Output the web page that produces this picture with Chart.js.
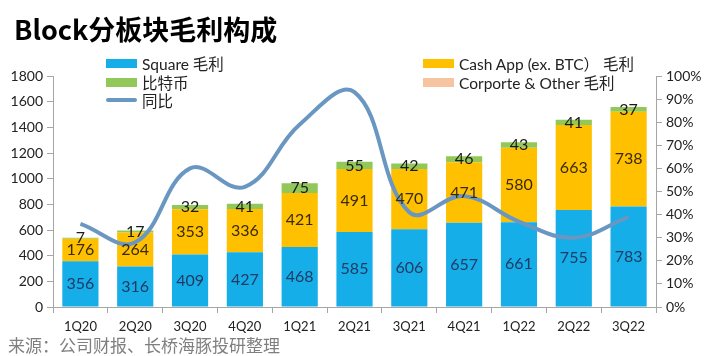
<!DOCTYPE html>
<html>
<head>
<meta charset="utf-8">
<script src="https://cdn.jsdelivr.net/npm/chart.js@4.4.1/dist/chart.umd.min.js"></script>
<style>
html,body{margin:0;padding:0;background:#fff;}
#wrap{position:relative;width:712px;height:356px;overflow:hidden;background:#fff;}
#c{position:absolute;left:0;top:0;}
#title{position:absolute;left:14px;top:11px;font:bold 27px "Noto Sans CJK SC","Noto Sans",sans-serif;color:#000;white-space:nowrap;line-height:36px;}
#source{position:absolute;left:8px;top:334px;font:17px "Noto Sans CJK SC",sans-serif;color:#7f7f7f;white-space:nowrap;line-height:22px;}
.lg{position:absolute;font:15.5px Lato,"Noto Sans CJK SC",sans-serif;color:#222;white-space:nowrap;display:flex;align-items:center;height:18px;}
.sw{display:inline-block;width:31px;height:9px;margin-right:5px;}
.ln{display:inline-block;width:31px;height:4px;border-radius:2px;margin-right:5px;}
</style>
</head>
<body>
<div id="wrap">
<canvas id="c" width="712" height="356"></canvas>
<div id="title">Block分板块毛利构成</div>
<div id="legend"></div>
<div id="source">来源：公司财报、长桥海豚投研整理</div>
</div>
<script>
const categories = ["1Q20","2Q20","3Q20","4Q20","1Q21","2Q21","3Q21","4Q21","1Q22","2Q22","3Q22"];
const squareGP   = [356,316,409,427,468,585,606,657,661,755,783];
const cashAppGP  = [176,264,353,336,421,491,470,471,580,663,738];
const bitcoinGP  = [7,17,32,41,75,55,42,46,43,41,37];
const corporateGP= [0,0,0,0,0,0,0,0,0,0,0];
const yoyGrowth  = [0.36,0.28,0.60,0.52,0.79,0.93,0.41,0.48,0.37,0.30,0.39];
const leftTicks  = [0,200,400,600,800,1000,1200,1400,1600,1800];
const rightTicks = ["0%","10%","20%","30%","40%","50%","60%","70%","80%","90%","100%"];

const C_SQ="#15AEE8", C_CA="#FFC000", C_BTC="#92C85A", C_CO="#F6C4A0", C_LINE="#6A97C1";

const labelPlugin={
  id:'barLabels',
  afterDatasetsDraw(chart){
    const ctx=chart.ctx;
    ctx.save();
    ctx.font='16px Lato, "Liberation Sans", sans-serif';
    ctx.textAlign='center';ctx.textBaseline='middle';
    chart.data.datasets.forEach((ds,i)=>{
      if(!ds.labelColor) return;
      const meta=chart.getDatasetMeta(i);
      meta.data.forEach((el,j)=>{
        const v=ds.data[j];
        if(!v) return;
        const p=el.getProps(['x','y','base'],true);
        ctx.fillStyle=ds.labelColor;
        ctx.fillText(String(v),p.x,(p.y+p.base)/2);
      });
    });
    ctx.restore();
  }
};

const axisColor="#A6A6A6";
const tickFont={family:'Lato, "Liberation Sans", sans-serif',size:14};

new Chart(document.getElementById('c'),{
  data:{
    labels:categories,
    datasets:[
      {type:'line',label:'同比',data:yoyGrowth,yAxisID:'y1',borderColor:C_LINE,borderWidth:4,tension:0.4,pointRadius:0,fill:false,order:0},
      {type:'bar',label:'Square 毛利',data:squareGP,backgroundColor:C_SQ,yAxisID:'y',stack:'s',labelColor:'#1F3B63',order:1,categoryPercentage:0.66,barPercentage:1},
      {type:'bar',label:'Cash App (ex. BTC） 毛利',data:cashAppGP,backgroundColor:C_CA,yAxisID:'y',stack:'s',labelColor:'#3A2A08',order:1,categoryPercentage:0.66,barPercentage:1},
      {type:'bar',label:'比特币',data:bitcoinGP,backgroundColor:C_BTC,yAxisID:'y',stack:'s',labelColor:'#1A1A1A',order:1,categoryPercentage:0.66,barPercentage:1},
      {type:'bar',label:'Corporte & Other 毛利',data:corporateGP,backgroundColor:C_CO,yAxisID:'y',stack:'s',order:1,categoryPercentage:0.66,barPercentage:1}
    ]
  },
  options:{
    responsive:false,animation:false,
    layout:{padding:{top:76,left:0,right:0,bottom:0}},
    plugins:{legend:{display:false},tooltip:{enabled:false}},
    scales:{
      x:{stacked:true,offset:true,
        grid:{display:true,drawOnChartArea:false,color:axisColor,tickLength:6,offset:true},
        border:{color:axisColor},
        ticks:{color:'#222',font:{family:'Lato, "Liberation Sans", sans-serif',size:13},padding:6,maxRotation:0},
        afterFit(s){s.height=49;}
      },
      y:{stacked:true,position:'left',min:0,max:1800,
        afterBuildTicks(s){s.ticks=leftTicks.map(v=>({value:v}));},
        grid:{drawOnChartArea:false,color:axisColor,tickLength:6},
        border:{color:axisColor},
        ticks:{color:'#222',font:tickFont,padding:4,callback:(v,i)=>String(leftTicks[i])},
        afterFit(s){s.width=53;}
      },
      y1:{stacked:false,position:'right',min:0,max:1,
        afterBuildTicks(s){s.ticks=rightTicks.map((t,i)=>({value:i/10}));},
        grid:{drawOnChartArea:false,color:axisColor,tickLength:6},
        border:{color:axisColor},
        ticks:{color:'#222',font:tickFont,padding:4,callback:(v,i)=>rightTicks[i]},
        afterFit(s){s.width=56;}
      }
    }
  },
  plugins:[labelPlugin]
});

const lg=document.getElementById('legend');
const items=[
  {label:'Square 毛利',kind:'box',color:C_SQ,x:106,y:54},
  {label:'比特币',kind:'box',color:C_BTC,x:106,y:73},
  {label:'同比',kind:'line',color:C_LINE,x:106,y:91},
  {label:'Cash App (ex. BTC） 毛利',kind:'box',color:C_CA,x:423,y:54},
  {label:'Corporte & Other 毛利',kind:'box',color:C_CO,x:423,y:73}
];
items.forEach(it=>{
  const d=document.createElement('div');d.className='lg';
  d.style.left=it.x+'px';d.style.top=it.y+'px';
  const s=document.createElement('span');s.className=it.kind==='box'?'sw':'ln';s.style.background=it.color;
  d.appendChild(s);d.appendChild(document.createTextNode(it.label));
  lg.appendChild(d);
});
</script>
</body>
</html>
